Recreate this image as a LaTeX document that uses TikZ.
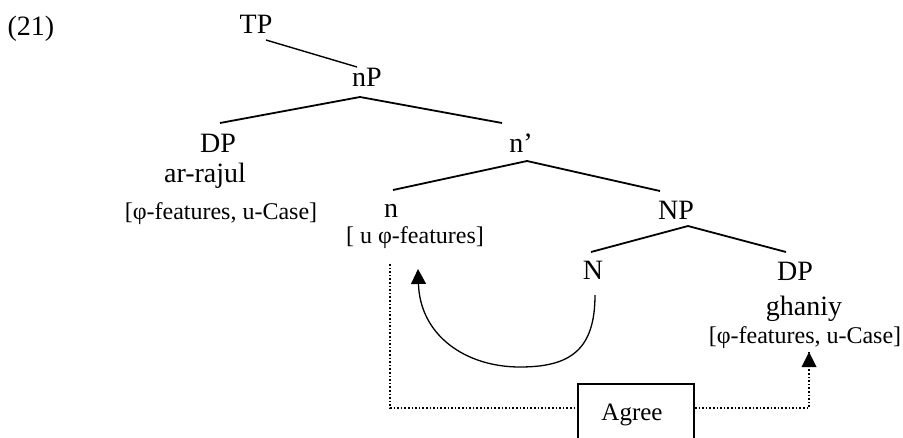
\documentclass[tikz,border=0pt]{standalone}
\usepackage{fontspec}
\setmainfont{Liberation Serif}
\usetikzlibrary{arrows.meta}
\begin{document}
\begin{tikzpicture}[x=1pt,y=-1pt,
  big/.style={font=\fontsize{28}{32}\selectfont, anchor=base, inner sep=0pt},
  small/.style={font=\fontsize{24}{28}\selectfont, anchor=base, inner sep=0pt},
  branch/.style={line width=1.8pt},
  agreeline/.style={line width=1.6pt, dash pattern=on 1.6pt off 2pt},
  tipstyle/.style={-{Triangle[length=15pt,width=15pt]}}]
\useasboundingbox (0,0) rectangle (903,437);
\clip (0,0) rectangle (903,437);
% labels
\node[big] (ex) at (31,35) {(21)};
\node[big] (TP) at (256,33) {TP};
\node[big] (nP) at (367,86) {nP};
\node[big] (DPa) at (218,152) {DP};
\node[big] (rajul) at (205,182) {ar-rajul};
\node[small] (feata) at (221,219) {[φ-features, u-Case]};
\node[big] (nbar) at (521,152) {n’};
\node[big] (n) at (391,217) {n};
\node[small] (ufeat) at (415,243) {[ u φ-features]};
\node[big] (NP) at (676,219) {NP};
\node[big] (N) at (593,279) {N};
\node[big] (DPb) at (795,280) {DP};
\node[big] (ghaniy) at (804,315) {ghaniy};
\node[small] (featb) at (805,343) {[φ-features, u-Case]};
\node[draw, line width=1.8pt, minimum width=116pt, minimum height=70pt, inner sep=0pt] (box) at (636,419) {};
\node[font=\fontsize{25}{30}\selectfont, anchor=base, inner sep=0pt] (agree) at (632,420) {Agree};
% branch end points
\coordinate (TPb) at (266,40);
\coordinate (nPt) at (357,67);
\coordinate (nPb) at (360,97);
\coordinate (DPat) at (220,123);
\coordinate (nbart) at (502,123);
\coordinate (nbarb) at (527,161);
\coordinate (nt) at (393,190);
\coordinate (NPt) at (660,191);
\coordinate (NPb) at (688,226);
\coordinate (Nt) at (591,252);
\coordinate (DPbt) at (786,252);
% tree
\draw[line width=1.4pt] (TPb) -- (nPt);
\draw[branch] (DPat) -- (nPb) -- (nbart);
\draw[branch] (nt) -- (nbarb) -- (NPt);
\draw[branch] (Nt) -- (NPb) -- (DPbt);
% movement arrow
\coordinate (Nbot) at (595,295);
\coordinate (ntip) at (418,269);
\draw[line width=1.3pt, tipstyle] (Nbot) .. controls (595,350) and (570,367) .. (520,367)
   .. controls (465,367) and (420,335) .. (ntip);
% agree lines
\coordinate (ufeatbot) at (390,264);
\coordinate (featbtip) at (809,352);
\draw[agreeline] (ufeatbot) |- (box.west |- 0,408);
\draw[agreeline] (box.east |- 0,408) -| (featbtip);
\fill (featbtip) -- (801.5,367) -- (816.5,367) -- cycle;
\end{tikzpicture}
\end{document}
